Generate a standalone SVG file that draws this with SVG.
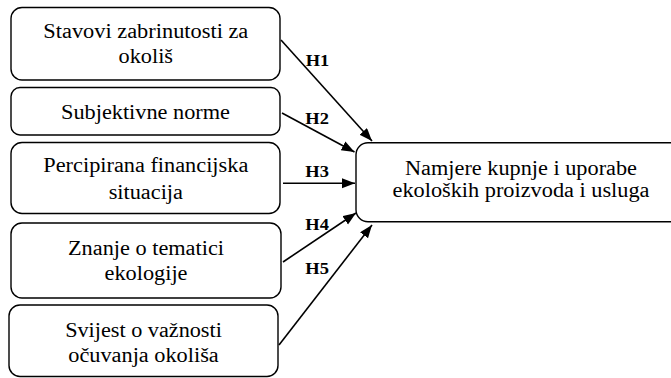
<svg xmlns="http://www.w3.org/2000/svg" width="671" height="378" viewBox="0 0 671 378">
<style>
.box{fill:#fff;stroke:#000;stroke-width:1.4}
.c{stroke:#000;stroke-width:1.6;fill:none;marker-end:url(#arr)}
</style>
<defs>
<marker id="arr" markerUnits="userSpaceOnUse" markerWidth="14" markerHeight="12" refX="13" refY="5" orient="auto">
<path d="M0,0 L13,5 L0,10 Z" fill="#000"/>
</marker>
</defs>
<rect width="671" height="378" fill="#fff"/>
<g font-family="Liberation Serif, Times New Roman, serif" font-size="20" text-anchor="middle" fill="#000">
<g id="n1">
<rect class="box" x="11" y="7.5" width="269" height="72.5" rx="11"/>
<text x="145.8" y="38" textLength="205" lengthAdjust="spacingAndGlyphs">Stavovi zabrinutosti za</text>
<text x="145.8" y="63" textLength="54.5" lengthAdjust="spacingAndGlyphs">okoliš</text>
</g>
<g id="n2">
<rect class="box" x="11" y="87.5" width="269" height="47.5" rx="9"/>
<text x="145.5" y="119.3" textLength="169" lengthAdjust="spacingAndGlyphs">Subjektivne norme</text>
</g>
<g id="n3">
<rect class="box" x="11" y="142.5" width="269" height="71" rx="11"/>
<text x="145.8" y="171.5" textLength="205" lengthAdjust="spacingAndGlyphs">Percipirana financijska</text>
<text x="145.8" y="199" textLength="74.3" lengthAdjust="spacingAndGlyphs">situacija</text>
</g>
<g id="n4">
<rect class="box" x="11" y="223" width="270" height="75" rx="11"/>
<text x="146" y="255" textLength="156" lengthAdjust="spacingAndGlyphs">Znanje o tematici</text>
<text x="146" y="280" textLength="83" lengthAdjust="spacingAndGlyphs">ekologije</text>
</g>
<g id="n5">
<rect class="box" x="9" y="305" width="269" height="71.5" rx="11"/>
<text x="143.5" y="336.5" textLength="156.7" lengthAdjust="spacingAndGlyphs">Svijest o važnosti</text>
<text x="143.5" y="361.5" textLength="150.5" lengthAdjust="spacingAndGlyphs">očuvanja okoliša</text>
</g>
<g id="n6">
<rect class="box" x="356" y="142.7" width="340" height="79" rx="12"/>
<text x="521" y="174.5" textLength="232" lengthAdjust="spacingAndGlyphs">Namjere kupnje i uporabe</text>
<text x="521" y="197" textLength="257" lengthAdjust="spacingAndGlyphs">ekoloških proizvoda i usluga</text>
</g>
</g>
<g id="connectors">
<line class="c" x1="281" y1="40" x2="372" y2="141"/>
<line class="c" x1="282" y1="113" x2="354.5" y2="152"/>
<line class="c" x1="283" y1="183.3" x2="355" y2="183.3"/>
<line class="c" x1="283" y1="262" x2="356" y2="213"/>
<line class="c" x1="279" y1="345" x2="372" y2="225"/>
<g font-family="Liberation Serif, Times New Roman, serif" font-size="17" font-weight="bold" fill="#000">
<text x="305.7" y="66" textLength="23.6" lengthAdjust="spacingAndGlyphs">H1</text>
<text x="305.3" y="124" textLength="23.6" lengthAdjust="spacingAndGlyphs">H2</text>
<text x="305.3" y="176.5" textLength="23.6" lengthAdjust="spacingAndGlyphs">H3</text>
<text x="305.3" y="230" textLength="23.6" lengthAdjust="spacingAndGlyphs">H4</text>
<text x="305.3" y="274" textLength="23.6" lengthAdjust="spacingAndGlyphs">H5</text>
</g>
</g>
</svg>
